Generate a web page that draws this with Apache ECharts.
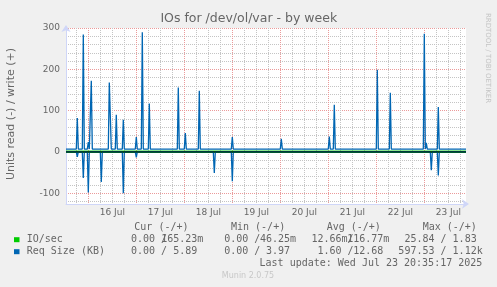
<!DOCTYPE html>
<html><head><meta charset="utf-8">
<script src="https://cdn.jsdelivr.net/npm/echarts@6/dist/echarts.min.js"></script>
<style>html,body{margin:0;padding:0;background:#f0f0f0;}#c{width:497px;height:287px;}</style>
</head><body><div id="c"></div>
<script>
// x values: hours since 15 Jul 2025 00:00
const xStart = 12.85, xEnd = 212.85;
const gridHours = [18,24,30,36,42,48,54,60,66,72,78,84,90,96,102,108,114,120,126,132,138,144,150,156,162,168,174,180,186,192,198,204,210];
const dayNoons = [36,60,84,108,132,156,180,204];
const dayLabels = ['16 Jul','17 Jul','18 Jul','19 Jul','20 Jul','21 Jul','22 Jul','23 Jul'];
const yTicks = [-120,-100,-80,-60,-40,-20,0,20,40,60,80,100,120,140,160,180,200,220,240,260,280,300];
const yLabels = [-100,0,100,200,300];

// Req Size (KB) write (+)
const writeTimes = [12.85, 18.0,18.5,19.0, 21.0,21.5,22.0, 23.5,24.0,24.5, 25.0,25.5,26.0, 34.0,34.5,35.0,35.5, 37.5,38.0,38.5, 41.0,41.5,42.0, 47.5,48.0,48.5, 50.5,51.0,51.5, 54.0,54.5,55.0, 68.5,69.0,69.5, 72.0,72.5,73.0, 79.0,79.5,80.0, 95.5,96.0,96.5, 120.0,120.5,121.0, 144.0,144.5,145.0, 146.5,147.0,147.5, 165.5,166.0,166.5, 168.0,168.5,169.0, 174.5,175.0,175.5, 191.5,192.0,192.5,193.0,193.5, 198.5,199.0,199.5, 212.85];
const writeValues = [7, 7,82,7, 7,284,7, 7,24,7, 7,172,7, 7,168,172,7, 7,90,7, 7,78,7, 7,36,7, 7,290,7, 7,117,7, 7,156,7, 7,46,7, 7,148,7, 7,36,7, 7,32,7, 7,37,7, 7,114,7, 7,10,7, 7,199,7, 7,143,7, 7,286,7,22,7, 7,109,7, 7];
// Req Size (KB) read (-)
const readTimes = [12.85, 18.0,18.5,19.0, 21.0,21.5,22.0, 23.5,24.0,24.5, 25.0,25.5,26.0, 30.0,30.5,31.0, 37.5,38.0,38.5, 41.0,41.5,42.0, 47.5,48.0,48.5, 86.5,87.0,87.5, 95.5,96.0,96.5, 192.0,192.5,193.0, 195.0,195.5,196.0, 198.5,199.0,199.5, 212.85];
const readValues = [0, 0,-12,0, 0,-63,0, 0,-98,0, 0,-3,0, 0,-73,0, 0,-4,0, 0,-100,0, 0,-13,0, 0,-51,0, 0,-71,0, 0,-3,0, 0,-44,0, 0,-57,0, 0];
// IO/sec
const ioTimes = [12.85, 212.85];
const ioRead = [0, 0];
const ioWrite = [0, 0];
// zero rule
const zeroTimes = [12.85, 212.85];
const zeroValues = [0, 0];

// legend table
const legendNames = ['IO/sec', 'Req Size (KB)'];
const legendColors = ['#00cc00', '#0066b3'];
const colHeaders = ['Cur (-/+)', 'Min (-/+)', 'Avg (-/+)', 'Max (-/+)'];
const readStats = [['0.00 ', '0.00 ', '12.66m', '25.84 '], ['0.00 ', '0.00 ', '1.60 ', '597.53 ']];
const writeStats = [['165.23m', '46.25m', '116.77m', '1.83 '], ['5.89 ', '3.97 ', '12.68 ', '1.12k']];
const lastUpdate = 'Last update: Wed Jul 23 20:35:17 2025';

const pairs = (t, v) => t.map((x, i) => [x, v[i]]);

const FONT = 'DejaVu Sans';
const MONO = 'DejaVu Sans Mono';
const TXT = '#666666';
const MINOR = '#c4c4c4';
const MAJOR = '#eb9a9a';
const AXIS = '#CFD6F8';

const headerX = [134.3, 231, 326.7, 422.7];
const slashX = [161, 254.3, 347.5, 440.5];
const writeRight = [203.3, 296, 389.3, 482.7];

function txt(x, y, text, opts) {
  opts = opts || {};
  return {
    type: 'text', x: x, y: y, rotation: opts.rotation || 0, silent: true,
    style: {
      text: text, fill: opts.fill || TXT,
      fontSize: opts.size || 10, fontFamily: opts.family || MONO,
      align: opts.align || 'left', verticalAlign: 'middle',
      textAlign: opts.align || 'left', textVerticalAlign: 'middle'
    }
  };
}

const graphics = [];
graphics.push(txt(248.8, 19, 'IOs for /dev/ol/var - by week', {size: 12.5, family: FONT, align: 'center'}));
graphics.push(txt(11, 114, 'Units read (-) / write (+)', {size: 11, family: FONT, align: 'center', rotation: Math.PI / 2}));
graphics.push(txt(488, 58, 'RRDTOOL / TOBI OETIKER', {size: 7, family: FONT, align: 'center', rotation: -Math.PI / 2, fill: '#c4c4c4'}));
colHeaders.forEach((h, i) => graphics.push(txt(headerX[i], 227.7, h)));
legendNames.forEach((n, r) => {
  const y = 239.7 + r * 12;
  graphics.push({type: 'rect', silent: true, shape: {x: 14, y: y - 2.5, width: 5.5, height: 5}, style: {fill: legendColors[r]}});
  graphics.push(txt(26.7, y, n));
  for (let c = 0; c < 4; c++) {
    graphics.push(txt(slashX[c], y, readStats[r][c], {align: 'right'}));
    graphics.push(txt(slashX[c], y, '/'));
    graphics.push(txt(writeRight[c], y, writeStats[r][c], {align: 'right'}));
  }
});
graphics.push(txt(482.3, 263.7, lastUpdate, {align: 'right'}));
graphics.push(txt(248, 276, 'Munin 2.0.75', {size: 8, family: FONT, align: 'center', fill: '#c8c8c8'}));

const chart = echarts.init(document.getElementById('c'), null, {renderer: 'canvas'});
chart.setOption({
  animation: false,
  backgroundColor: '#f0f0f0',
  grid: {left: 66, top: 28, width: 400, height: 176, show: true, backgroundColor: '#ffffff', borderWidth: 0},
  xAxis: {
    type: 'value', min: xStart, max: xEnd,
    axisLine: {show: true, onZero: false, lineStyle: {color: AXIS, width: 1}, symbol: ['none', 'arrow'], symbolSize: [7, 7], symbolOffset: [0, 3]},
    axisTick: {show: false, customValues: gridHours},
    axisLabel: {customValues: dayNoons, color: TXT, fontSize: 9, fontFamily: FONT, margin: 4,
      formatter: v => dayLabels[dayNoons.indexOf(v)] || ''},
    splitLine: {show: true, lineStyle: {color: [MINOR, MAJOR, MINOR, MINOR], type: [1, 1], width: 1}}
  },
  yAxis: {
    type: 'value', min: -126, max: 300,
    axisLine: {show: true, onZero: false, lineStyle: {color: AXIS, width: 1}, symbol: ['none', 'arrow'], symbolSize: [7, 7], symbolOffset: [0, 3]},
    axisTick: {show: false, customValues: yTicks},
    axisLabel: {customValues: yLabels, color: TXT, fontSize: 9, fontFamily: FONT, margin: 6},
    splitLine: {show: true, lineStyle: {color: [MINOR, MAJOR, MINOR, MINOR, MINOR], type: [1, 1], width: 1}}
  },
  series: [
    {name: 'IO/sec read', type: 'line', data: pairs(ioTimes, ioRead), showSymbol: false, lineStyle: {color: '#00cc00', width: 2.2}},
    {name: 'IO/sec write', type: 'line', data: pairs(ioTimes, ioWrite), showSymbol: false, lineStyle: {color: '#00cc00', width: 2.2}},
    {name: 'Req Size read', type: 'line', data: pairs(readTimes, readValues), showSymbol: false, lineStyle: {color: '#0066b3', width: 1.3}},
    {name: 'Req Size write', type: 'line', data: pairs(writeTimes, writeValues), showSymbol: false, lineStyle: {color: '#0066b3', width: 1.3}},
    {name: 'zero', type: 'line', data: pairs(zeroTimes, zeroValues), showSymbol: false, silent: true, lineStyle: {color: '#000000', width: 1}}
  ],
  graphic: graphics
});
</script>
</body></html>
